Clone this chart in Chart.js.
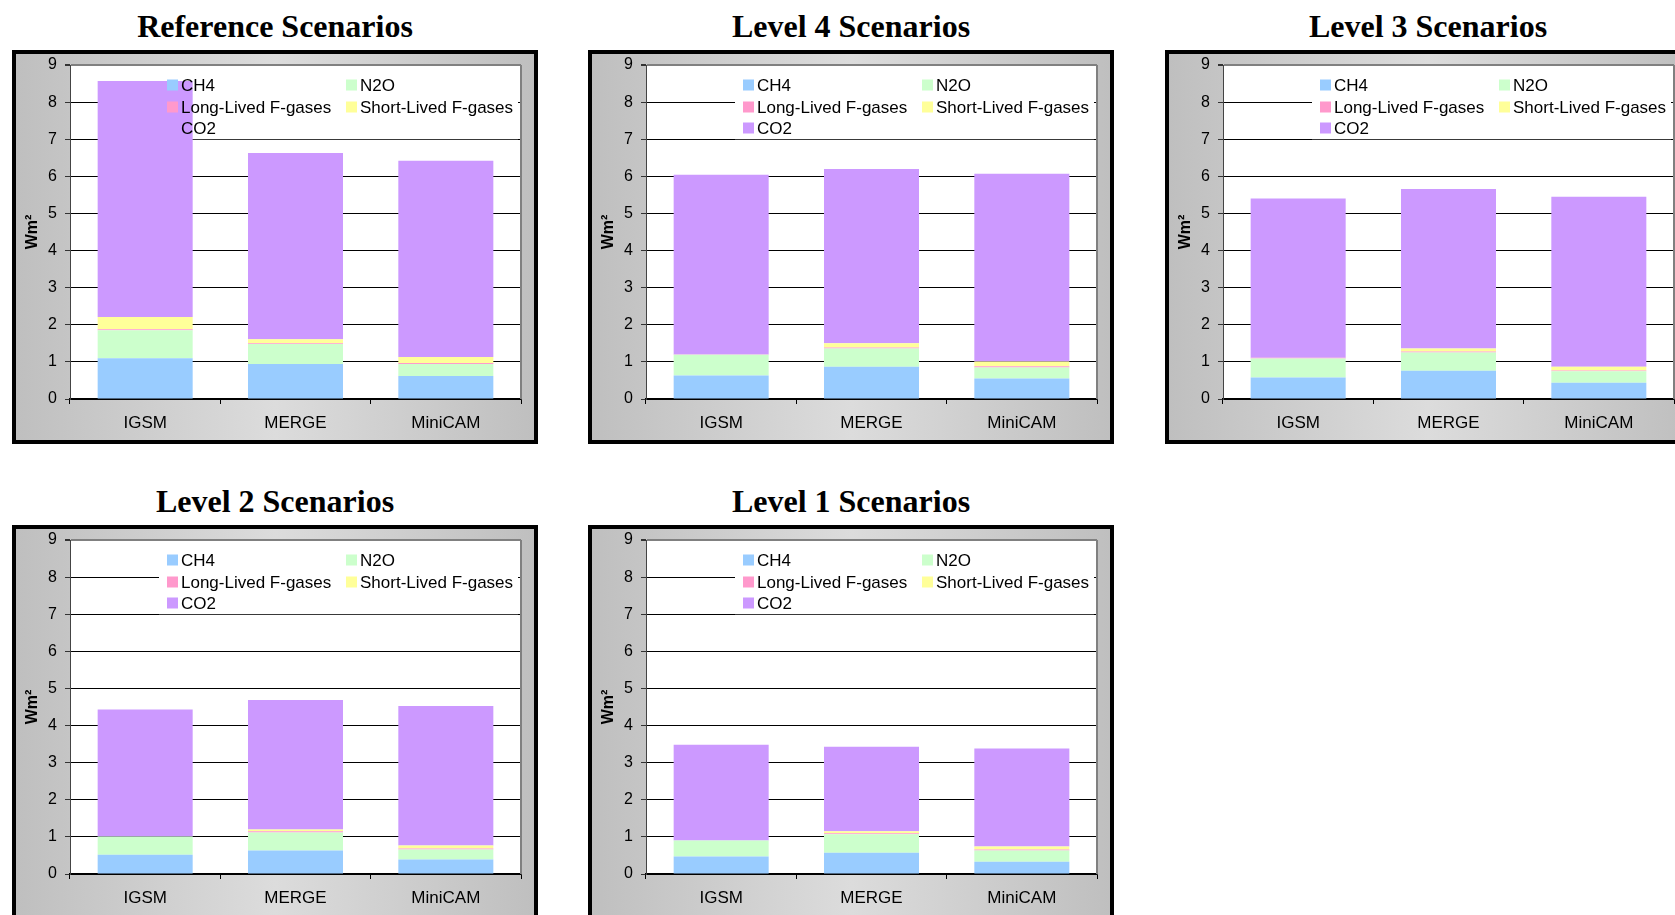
<!DOCTYPE html>
<html>
<head>
<meta charset="utf-8">
<script src="https://cdn.jsdelivr.net/npm/chart.js@4.4.1/dist/chart.umd.min.js"></script>
<style>
  html, body { margin: 0; padding: 0; background: #fff; }
  body { width: 1675px; height: 915px; overflow: hidden; position: relative; }
  .title {
    position: absolute; width: 526px; text-align: center;
    font: bold 32px "Liberation Serif", "Times New Roman", serif;
    line-height: 32px; color: #000; white-space: nowrap;
  }
  .frame {
    position: absolute; width: 526px; height: 394px; box-sizing: border-box;
    border: 4px solid #000;
    background: linear-gradient(to right, #bfbfbf 0%, #dcdcdc 50%, #bfbfbf 100%);
  }
  .frame canvas { display: block; }
</style>
</head>
<body>
<script>
// Chart data
const models = ['IGSM', 'MERGE', 'MiniCAM'];
const gases = ['CH4', 'N2O', 'Long-Lived F-gases', 'Short-Lived F-gases', 'CO2'];
const gasColors = ['#99ccff', '#ccffcc', '#ff99cc', '#ffff99', '#cc99ff'];
const yTicks = [0, 1, 2, 3, 4, 5, 6, 7, 8, 9];
const titles = ['Reference Scenarios', 'Level 4 Scenarios', 'Level 3 Scenarios', 'Level 2 Scenarios', 'Level 1 Scenarios'];

// one row per gas (same order as gases), one value per model
const reference = [
  [1.10, 0.94, 0.62],
  [0.75, 0.54, 0.32],
  [0.03, 0.02, 0.03],
  [0.33, 0.11, 0.16],
  [6.36, 5.02, 5.29]
];
const level4 = [
  [0.63, 0.87, 0.55],
  [0.56, 0.49, 0.30],
  [0.01, 0.03, 0.03],
  [0.00, 0.11, 0.13],
  [4.84, 4.70, 5.06]
];
const level3 = [
  [0.58, 0.76, 0.44],
  [0.51, 0.49, 0.31],
  [0.02, 0.03, 0.02],
  [0.00, 0.08, 0.10],
  [4.29, 4.30, 4.58]
];
const level2 = [
  [0.52, 0.63, 0.39],
  [0.49, 0.49, 0.27],
  [0.00, 0.03, 0.03],
  [0.00, 0.05, 0.08],
  [3.42, 3.49, 3.76]
];
const level1 = [
  [0.47, 0.57, 0.33],
  [0.43, 0.50, 0.30],
  [0.00, 0.03, 0.03],
  [0.00, 0.05, 0.08],
  [2.58, 2.28, 2.64]
];

const scenarios = [reference, level4, level3, level2, level1];
const panelPos = [[12, 50], [588, 50], [1165, 50], [12, 525], [588, 525]];

const sans = '"Liberation Sans", Arial, sans-serif';

// white plot area, legend box under the bars, legend items over them
const excelLook = {
  id: 'excelLook',
  beforeDraw(chart) {
    const a = chart.chartArea, ctx = chart.ctx;
    ctx.save();
    ctx.fillStyle = '#fff';
    ctx.fillRect(a.left, a.top, a.right - a.left, a.bottom - a.top);
    ctx.restore();
  },
  beforeDatasetsDraw(chart) {
    const a = chart.chartArea, ctx = chart.ctx;
    const y7 = chart.scales.y.getPixelForValue(7);
    ctx.save();
    ctx.fillStyle = '#fff';
    ctx.fillRect(a.left + 89, a.top + 2, a.right - 3 - (a.left + 89), y7 - a.top - 2);
    ctx.restore();
  },
  afterDatasetsDraw(chart) {
    const a = chart.chartArea, ctx = chart.ctx;
    const cols = [97, 276];
    const rows = [20, 42, 63];
    ctx.save();
    ctx.font = '17px ' + sans;
    ctx.textBaseline = 'middle';
    ctx.textAlign = 'left';
    gases.forEach((g, i) => {
      const x = a.left + cols[i % 2];
      const y = a.top + rows[Math.floor(i / 2)];
      ctx.fillStyle = gasColors[i];
      ctx.fillRect(x, y - 5.5, 11, 11);
      ctx.fillStyle = '#000';
      ctx.fillText(g, x + 14, y + 1);
    });
    // gray right border of plot area
    ctx.strokeStyle = '#808080';
    ctx.lineWidth = 2;
    ctx.beginPath();
    ctx.moveTo(a.right, a.top);
    ctx.lineTo(a.right, a.bottom);
    ctx.stroke();
    ctx.restore();
  }
};

function makePanel(idx) {
  const [left, top] = panelPos[idx];

  const title = document.createElement('div');
  title.className = 'title';
  title.style.left = left + 'px';
  title.style.top = (top - 40) + 'px';
  title.textContent = titles[idx];
  document.body.appendChild(title);

  const frame = document.createElement('div');
  frame.className = 'frame';
  frame.style.left = left + 'px';
  frame.style.top = top + 'px';
  const canvas = document.createElement('canvas');
  canvas.width = 518;
  canvas.height = 386;
  frame.appendChild(canvas);
  document.body.appendChild(frame);

  const data = scenarios[idx];
  new Chart(canvas.getContext('2d'), {
    type: 'bar',
    data: {
      labels: models,
      datasets: gases.map((g, i) => ({
        label: g,
        data: data[i],
        backgroundColor: gasColors[i],
        borderWidth: 0,
        barPercentage: 0.632,
        categoryPercentage: 1
      }))
    },
    options: {
      responsive: false,
      animation: false,
      layout: { padding: { top: 11, right: 13, bottom: 0, left: 0 } },
      plugins: {
        legend: { display: false },
        tooltip: { enabled: false }
      },
      scales: {
        x: {
          stacked: true,
          afterFit(s) { s.height = 41; },
          grid: {
            offset: true,
            drawOnChartArea: false,
            drawTicks: true,
            tickLength: 5,
            color: '#000'
          },
          border: { display: true, color: '#000', width: 1.5 },
          ticks: {
            color: '#000',
            padding: 9,
            font: { family: sans, size: 17 }
          }
        },
        y: {
          stacked: true,
          min: 0,
          max: 9,
          afterFit(s) {
            s.width = 54;
            s.paddingTop = 0;
            s.paddingBottom = 0;
          },
          afterBuildTicks(s) { s.ticks = yTicks.map(v => ({ value: v })); },
          grid: {
            color: c => (c.tick && c.tick.value === 9 ? '#808080' : '#000'),
            lineWidth: c => (c.tick && c.tick.value === 9 ? 2 : 1),
            drawTicks: true,
            tickLength: 5,
            tickColor: '#333'
          },
          border: { display: true, color: '#444', width: 1 },
          ticks: {
            color: '#000',
            padding: 8,
            font: { family: sans, size: 16 }
          },
          title: {
            display: true,
            text: 'Wm²',
            color: '#000',
            padding: { top: 7, bottom: 0 },
            font: { family: sans, size: 16, weight: 'bold' }
          }
        }
      }
    },
    plugins: [excelLook]
  });
}

for (let i = 0; i < scenarios.length; i++) makePanel(i);
</script>
</body>
</html>
